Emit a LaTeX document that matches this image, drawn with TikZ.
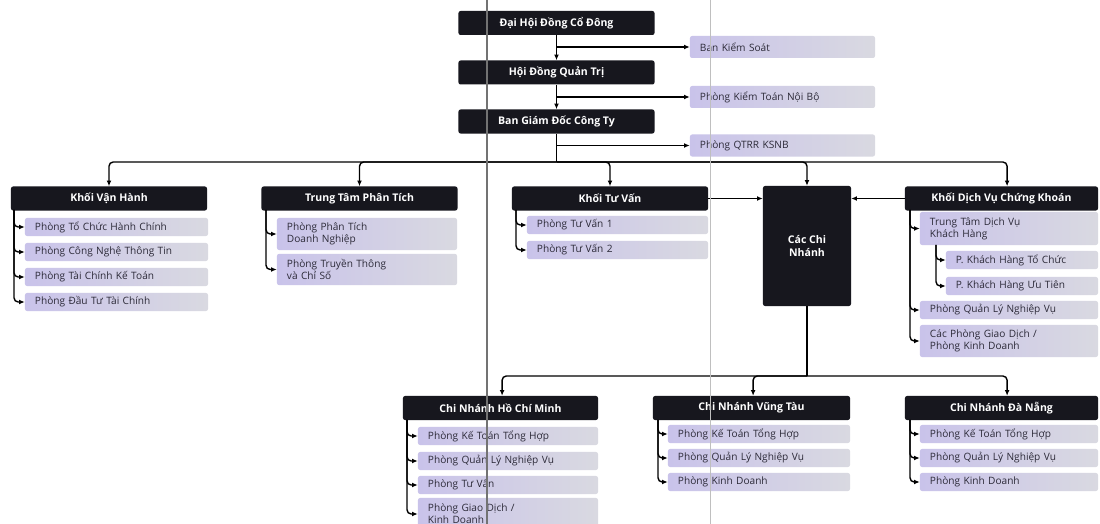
\documentclass[tikz,border=0pt]{standalone}
\usepackage{fontspec}
\usetikzlibrary{arrows.meta}
\newfontfamily\orgfont{Open Sans}
\newcommand{\headfont}{\orgfont\bfseries\fontsize{7.5}{9}\selectfont}
\newcommand{\unitfont}{\orgfont\fontsize{7.2}{8.6}\selectfont}
\definecolor{headfill}{HTML}{17171E}
\definecolor{unitL}{HTML}{C9C3EA}
\definecolor{unitR}{HTML}{D9D9E1}
\definecolor{unittext}{HTML}{2C2A38}
\tikzset{
  headbox/.style={fill=headfill, text=white, font=\headfont, minimum width=4.9cm,
    minimum height=0.6cm, rounded corners=1.5pt, inner sep=0pt, align=center},
  unitbox/.style={left color=unitL, right color=unitR, text=unittext, font=\unitfont,
    text width=#1, align=left, inner xsep=0.25cm, inner ysep=0pt,
    minimum height=0.45cm, rounded corners=1.5pt},
  link/.style={line width=1pt, -{Latex[length=4pt,width=3.5pt]}},
  bus/.style={line width=1pt, rounded corners=3pt}
}
\begin{document}
\begin{tikzpicture}[x=0.025cm, y=-0.025cm]
\fill[white] (0,0) rectangle (1100,524);
\useasboundingbox (0,0) rectangle (1100,524);
% top of the chart
\node[headbox] (node) at (556.5, 23){Đại Hội Đồng Cổ Đông};
\node[headbox] (node0) at (556.5, 72.5){Hội Đồng Quản Trị};
\node[headbox] (node00) at (556.5, 121.5){Ban Giám Đốc Công Ty};
\node[unitbox=4.125cm, minimum height=0.55cm] (node1) at (782.5, 47){Ban Kiểm Soát};
\node[unitbox=4.125cm, minimum height=0.55cm] (node01) at (782.5, 97){Phòng Kiểm Toán Nội Bộ};
\node[unitbox=4.125cm, minimum height=0.55cm] (node000) at (782.5, 145.5){Phòng QTRR KSNB};
% khoi / trung tam
\node[headbox] (node001) at (109, 198.5){Khối Vận Hành};
\node[headbox] (node002) at (359.5, 198.5){Trung Tâm Phân Tích};
\node[headbox] (node003) at (610, 198.5){Khối Tư Vấn};
\node[headbox, minimum width=2.2cm, minimum height=3cm] (node004) at (807, 246){Các Chi\\Nhánh};
\node[headbox, minimum width=4.825cm] (node005) at (1001.5, 198.5){Khối Dịch Vụ Chứng Khoán};
\node[unitbox=4.075cm] (node0010) at (116.5, 227){Phòng Tổ Chức Hành Chính};
\node[unitbox=4.075cm] (node0011) at (116.5, 252){Phòng Công Nghệ Thông Tin};
\node[unitbox=4.075cm] (node0012) at (116.5, 277){Phòng Tài Chính Kế Toán};
\node[unitbox=4.075cm] (node0013) at (116.5, 302){Phòng Đầu Tư Tài Chính};
\node[unitbox=4cm, minimum height=0.8cm] (node0020) at (367, 234){Phòng Phân Tích\\Doanh Nghiệp};
\node[unitbox=4cm, minimum height=0.78cm] (node0021) at (367, 269.5){Phòng Truyền Thông\\và Chỉ Số};
\node[unitbox=4.025cm] (node0030) at (617.5, 225){Phòng Tư Vấn 1};
\node[unitbox=4.025cm] (node0031) at (617.5, 250){Phòng Tư Vấn 2};
\node[unitbox=3.95cm, minimum height=0.825cm] (node0050) at (1009, 228.5){Trung Tâm Dịch Vụ\\Khách Hàng};
\node[unitbox=3.3cm] (node00500) at (1022, 260){P. Khách Hàng Tổ Chức};
\node[unitbox=3.3cm] (node00501) at (1022, 286){P. Khách Hàng Ưu Tiên};
\node[unitbox=3.95cm] (node0051) at (1009, 310){Phòng Quản Lý Nghiệp Vụ};
\node[unitbox=3.95cm, minimum height=0.8cm] (node0052) at (1009, 341){Các Phòng Giao Dịch /\\Phòng Kinh Doanh};
% chi nhanh
\node[headbox, minimum width=4.875cm] (node0040) at (500.5, 408){Chi Nhánh Hồ Chí Minh};
\node[headbox, minimum width=4.925cm] (node0041) at (751.5, 408){Chi Nhánh Vũng Tàu};
\node[headbox, minimum width=4.825cm] (node0042) at (1001.5, 408){Chi Nhánh Đà Nẵng};
\node[unitbox=4cm] (node00400) at (508, 436){Phòng Kế Toán Tổng Hợp};
\node[unitbox=4cm] (node00401) at (508, 461){Phòng Quản Lý Nghiệp Vụ};
\node[unitbox=4cm] (node00402) at (508, 485){Phòng Tư Vấn};
\node[unitbox=4cm, minimum height=0.8cm] (node00403) at (508, 514){Phòng Giao Dịch /\\Kinh Doanh};
\node[unitbox=4.05cm] (node00410) at (759, 434){Phòng Kế Toán Tổng Hợp};
\node[unitbox=4.05cm] (node00411) at (759, 458){Phòng Quản Lý Nghiệp Vụ};
\node[unitbox=4.05cm] (node00412) at (759, 482){Phòng Kinh Doanh};
\node[unitbox=3.95cm] (node00420) at (1009, 434){Phòng Kế Toán Tổng Hợp};
\node[unitbox=3.95cm] (node00421) at (1009, 458){Phòng Quản Lý Nghiệp Vụ};
\node[unitbox=3.95cm] (node00422) at (1009, 482){Phòng Kinh Doanh};
% connectors
\draw[link](node) -- (node0);
\draw[link](node0) -- (node00);
\draw[link](node.south |- node1.west) -- (node1.west);
\draw[link](node0.south |- node01.west) -- (node01.west);
\draw[link](node00.south |- node000.west) -- (node000.west);
\coordinate (bus0) at (556.5, 162);
\draw[line width=1pt](node00) -- (bus0);
\draw[bus, link](bus0) -| (node001.north);
\draw[bus, link](bus0) -| (node002.north);
\draw[bus, link](bus0) -| (node003.north);
\draw[bus, link](bus0) -| (node004.north);
\draw[bus, link](bus0) -| ([xshift=0.14cm]node005.north);
\draw[link](node003.east) -- (node004.west |- node003.east);
\draw[link](node005.west) -- (node004.east |- node005.west);
\coordinate (bus1) at (807, 376);
\draw[line width=1pt](node004) -- (bus1);
\draw[bus, link](bus1) -| ([xshift=0.04cm]node0040.north);
\draw[bus, link](bus1) -| ([xshift=0.04cm]node0041.north);
\draw[bus, link](bus1) -| ([xshift=0.14cm]node0042.north);
% spines of the lists
\coordinate (spine001) at (14, 210);
\coordinate (spine002) at (266, 210);
\coordinate (spine003) at (516, 210);
\coordinate (spine005) at (910, 210);
\coordinate (spine0050) at (936, 245);
\coordinate (spine0040) at (407, 420);
\coordinate (spine0041) at (658, 420);
\coordinate (spine0042) at (910, 420);
\foreach \n in {0010,0011,0012,0013} \draw[bus, link](spine001) |- (node\n.west);
\foreach \n in {0020,0021} \draw[bus, link](spine002) |- (node\n.west);
\foreach \n in {0030,0031} \draw[bus, link](spine003) |- (node\n.west);
\foreach \n in {0050,0051,0052} \draw[bus, link](spine005) |- (node\n.west);
\foreach \n in {00500,00501} \draw[bus, link](spine0050) |- (node\n.west);
\foreach \n in {00400,00401,00402,00403} \draw[bus, link](spine0040) |- (node\n.west);
\foreach \n in {00410,00411,00412} \draw[bus, link](spine0041) |- (node\n.west);
\foreach \n in {00420,00421,00422} \draw[bus, link](spine0042) |- (node\n.west);
% fold lines of the scan
\draw[black!55, line width=0.9pt] (487, 0) -- (487, 524);
\draw[black!25, line width=0.6pt] (710, 0) -- (710, 524);
\end{tikzpicture}
\end{document}
